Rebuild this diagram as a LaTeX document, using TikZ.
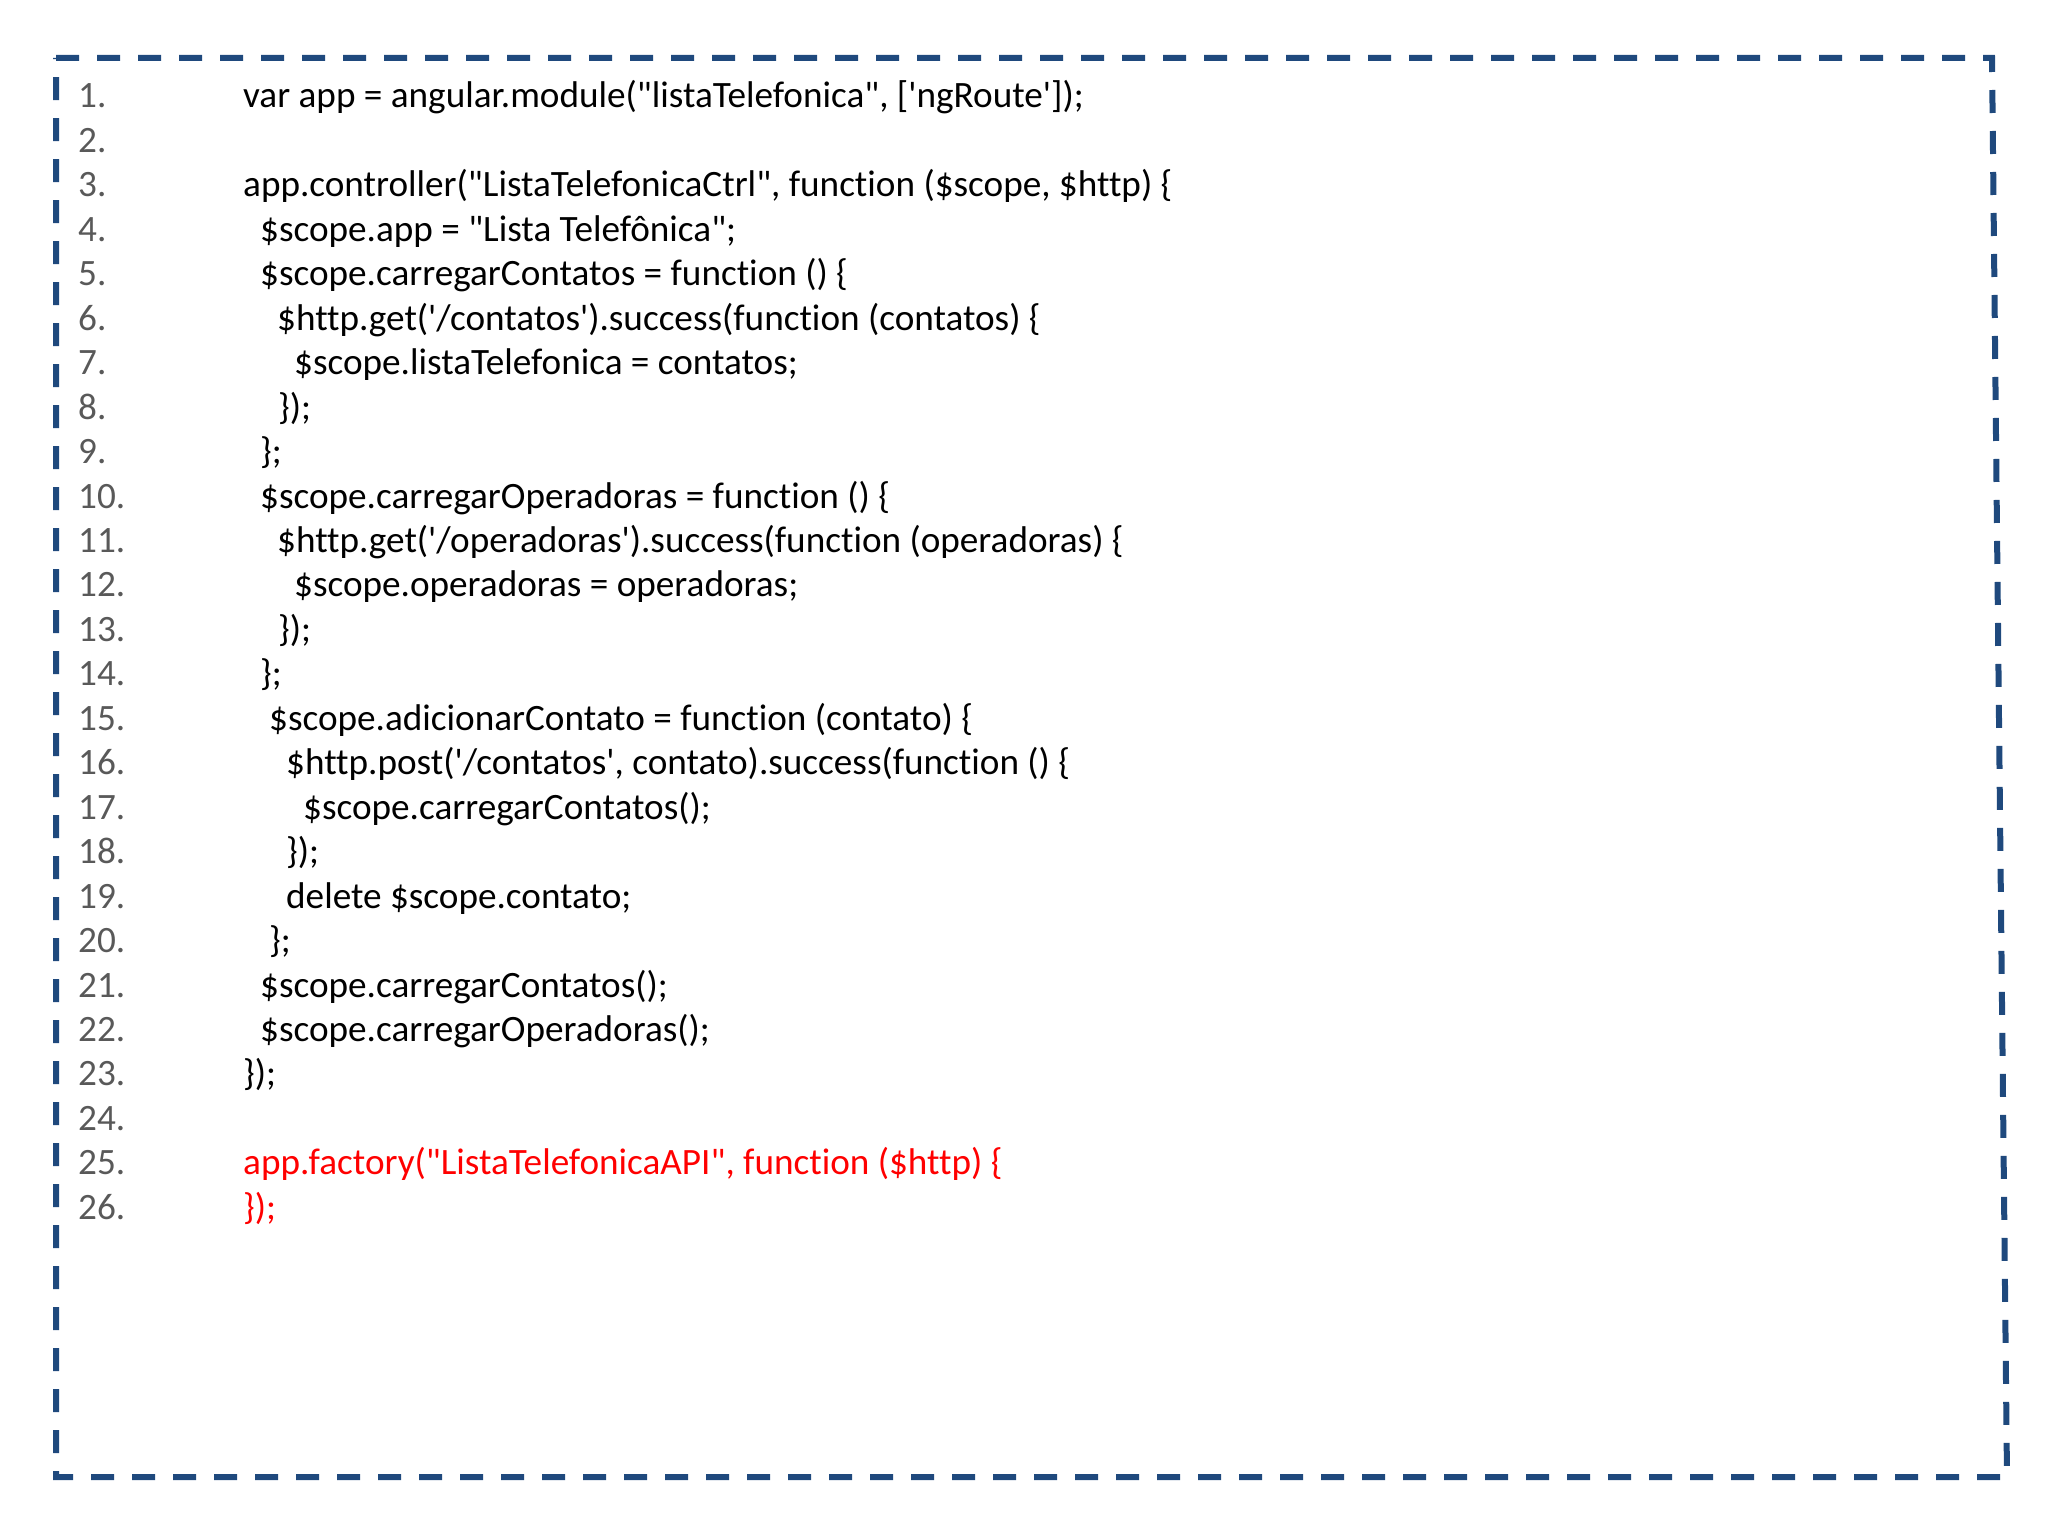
\documentclass[tikz,border=0pt]{standalone}
\usepackage{fontspec}
\newfontfamily\codefont{Carlito}[Ligatures=NoCommon]
\definecolor{boxblue}{HTML}{1F497D}
\definecolor{numgray}{HTML}{595959}
\definecolor{factred}{HTML}{FF0000}
\tikzset{
  frame/.style={draw=boxblue, line width=6pt, dash pattern=on 23pt off 18pt},
  num/.style={anchor=base west, inner sep=0pt, text=numgray, font=\codefont\fontsize{37.2}{44}\selectfont},
  code/.style={anchor=base west, inner sep=0pt, font=\codefont\fontsize{37.2}{44}\selectfont},
  hot/.style={code, text=factred}
}
\begin{document}
\begin{tikzpicture}[x=1pt, y=-1pt]
          \useasboundingbox (0,0) rectangle (2048,1536);

          % dashed frame
          \coordinate (tl) at (56,58);
          \coordinate (tr) at (1992,58);
          \coordinate (br) at (2007,1477);
          \coordinate (bl) at (56,1477);
          \draw [frame] (tl) -- (tr) -- (br) -- (bl) -- cycle;

          % line numbers
          \foreach \i in {1,...,26}
            \node [num] (n\i) at (78, {108+(\i-1)*44.45}) {\i.};

          % code
          \node [code] (c1) at (243, 108.0) {var app = angular.module("listaTelefonica", ['ngRoute']);};
          \node [code] (c3) at (243, 196.9) {app.controller("ListaTelefonicaCtrl", function (\$scope, \$http) \{};
          \node [code] (c4) at (260, 241.35) {\$scope.app = "Lista Telefônica";};
          \node [code] (c5) at (260, 285.8) {\$scope.carregarContatos = function () \{};
          \node [code] (c6) at (277, 330.25) {\$http.get('/contatos').success(function (contatos) \{};
          \node [code] (c7) at (294, 374.7) {\$scope.listaTelefonica = contatos;};
          \node [code] (c8) at (278, 419.15) {\});};
          \node [code] (c9) at (260, 463.6) {\};};
          \node [code] (c10) at (260, 508.05) {\$scope.carregarOperadoras = function () \{};
          \node [code] (c11) at (277, 552.5) {\$http.get('/operadoras').success(function (operadoras) \{};
          \node [code] (c12) at (294, 596.95) {\$scope.operadoras = operadoras;};
          \node [code] (c13) at (278, 641.4) {\});};
          \node [code] (c14) at (260, 685.85) {\};};
          \node [code] (c15) at (269, 730.3) {\$scope.adicionarContato = function (contato) \{};
          \node [code] (c16) at (286, 774.75) {\$http.post('/contatos', contato).success(function () \{};
          \node [code] (c17) at (303, 819.2) {\$scope.carregarContatos();};
          \node [code] (c18) at (286, 863.65) {\});};
          \node [code] (c19) at (286, 908.1) {delete \$scope.contato;};
          \node [code] (c20) at (269, 952.55) {\};};
          \node [code] (c21) at (260, 997.0) {\$scope.carregarContatos();};
          \node [code] (c22) at (260, 1041.45) {\$scope.carregarOperadoras();};
          \node [code] (c23) at (243, 1085.9) {\});};
          \node [hot] (c25) at (243, 1174.8) {app.factory("ListaTelefonicaAPI", function (\$http) \{};
          \node [hot] (c26) at (243, 1219.25) {\});};
        \end{tikzpicture}
\end{document}
